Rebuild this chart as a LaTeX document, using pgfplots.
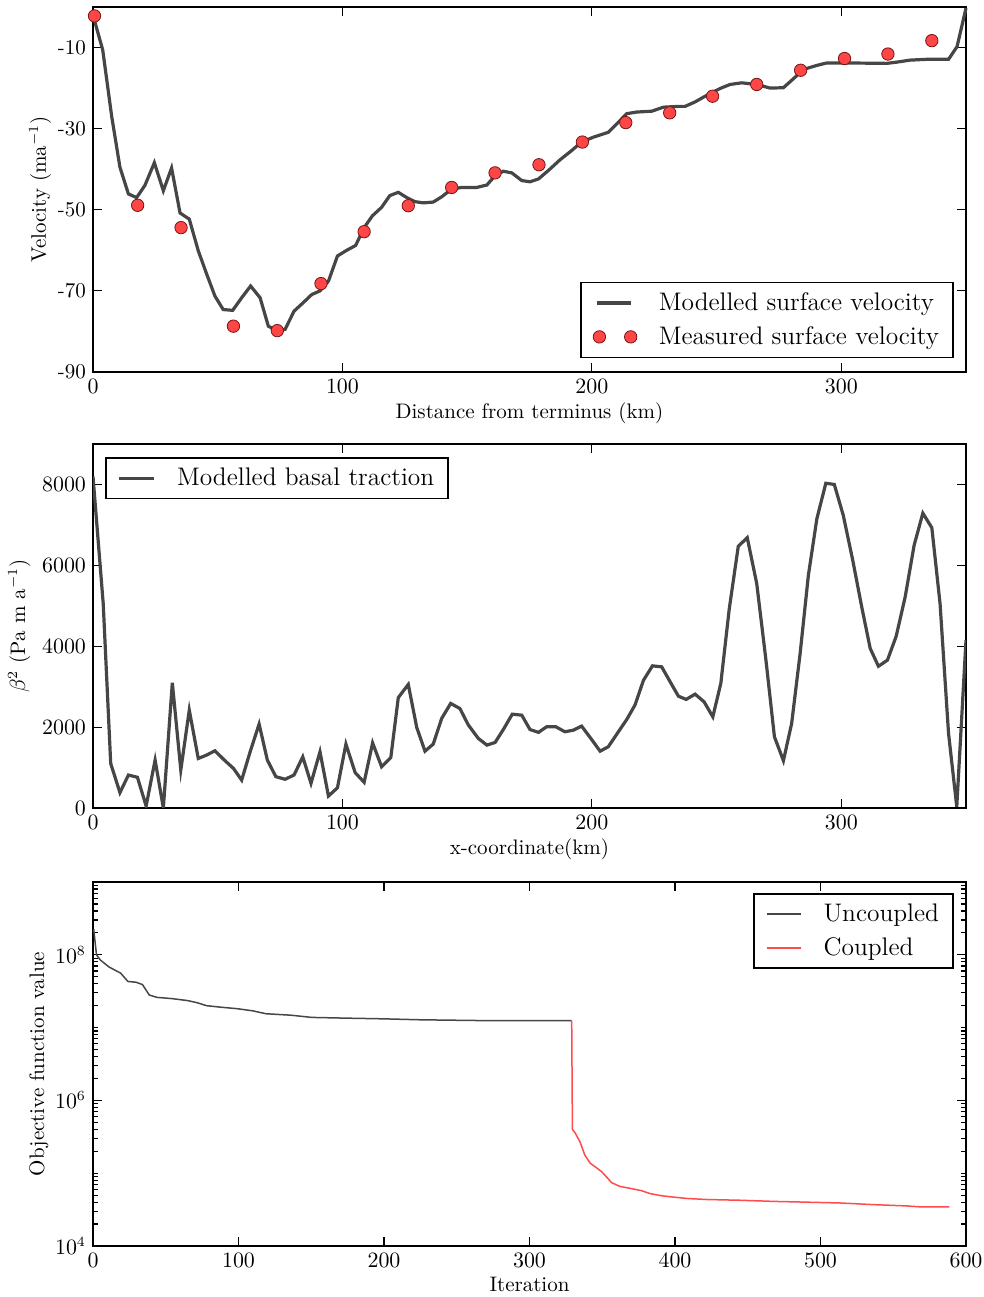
\documentclass[border=0pt]{standalone}
\usepackage{pgfplots}
\pgfplotsset{compat=1.18}
\definecolor{lgray}{RGB}{70,70,70}
\definecolor{mred}{RGB}{255,70,70}
\definecolor{mredd}{RGB}{120,20,20}
\definecolor{cred}{RGB}{255,75,75}
\pgfplotsset{
  every axis/.append style={
    scale only axis,
    width=436.5pt,
    axis line style={line width=0.9pt},
    tick align=inside,
    major tick length=4.5pt,
    minor tick length=2.5pt,
    every tick/.style={black, line width=0.6pt},
    tick label style={font=\fontsize{10.5}{12}\selectfont},
    label style={font=\fontsize{10.5}{12}\selectfont},
    xlabel shift=-2pt,
    legend style={font=\fontsize{12.7}{14}\selectfont, draw=black, line width=0.8pt,
      inner xsep=6pt, inner ysep=3pt, row sep=2.5pt, column sep=10pt,
      nodes={inner xsep=1pt}},
    legend cell align=left,
  },
}
\begin{document}
\begin{tikzpicture}
\path[use as bounding box] (0,0) rectangle (492pt,648.5pt);

% ---------------- Top panel ----------------
\begin{axis}[
  at={(46.5pt,462.5pt)}, anchor=south west,
  height=182.5pt,
  xmin=0, xmax=350, ymin=-90, ymax=0,
  xtick={0,100,200,300},
  ytick={-90,-70,-50,-30,-10},
  yticklabels={-90,-70,-50,-30,-10},
  xlabel={Distance from terminus (km)},
  ylabel={Velocity (ma$^{-1}$)},
  ylabel shift=-3.5pt,
  clip=false,
  legend style={at={(0.986,0.038)}, anchor=south east},
]
\addplot[lgray, line width=1.6pt] coordinates {
(0,-2) (3.9,-10.6) (7.5,-27) (10.8,-39.5) (14.2,-46.1) (17.5,-47) (20.8,-44)
(24.6,-38.4) (28.2,-45.3) (31.5,-39.7) (34.9,-50.8) (38.6,-52.3) (42.2,-60.1)
(45.6,-65.9) (48.9,-71.3) (52.2,-74.6) (56,-74.8) (59.6,-71.7) (63.2,-68.8)
(67,-71.7) (70.3,-78.7) (73.6,-79.8) (77,-79.5) (80.6,-75) (84.3,-72.9)
(87.7,-70.9) (91,-70) (94.4,-67.6) (98,-61.4) (101.7,-60) (105.3,-58.8)
(108.7,-54.4) (112,-51.5) (115.7,-49.4) (119,-46.5) (122.4,-45.7) (125.8,-47)
(129.1,-48) (132.4,-48.3) (136.4,-48.1) (139.8,-46.8) (143.8,-44.9) (147.8,-44.5)
(153.8,-44.5) (157.9,-43.9) (161.2,-41.6) (164.5,-40.5) (167.9,-40.9) (171.9,-42.8)
(175.2,-43.1) (178.6,-42.4) (182.6,-40.3) (187.2,-37.7) (191.9,-35.4) (195.9,-33.3)
(200.6,-32.1) (206.6,-30.9) (210,-28.8) (214,-26.3) (218,-25.9) (224,-25.7)
(228.7,-24.7) (235.4,-24.5) (237.4,-24.5) (241.4,-23.4) (246,-21.8) (251.4,-20.1)
(255.4,-19.1) (260.1,-18.7) (266.1,-19.1) (271.5,-20) (276.8,-19.9) (280.8,-17.7)
(284.8,-15.4) (290.2,-14.4) (294.2,-13.8) (302.2,-13.8) (318.2,-13.9) (322.2,-13.6)
(327.6,-13.1) (334.3,-12.9) (343,-12.9) (346.4,-9.8) (350,-0.3)
};
\addlegendentry{Modelled surface velocity}
\addplot[only marks, mark=*, mark size=3.1pt,
  mark options={fill=mred, draw=mredd, line width=0.4pt},
  legend image code/.code={\draw[mark=*, mark size=3.1pt, mark options={fill=mred, draw=mredd, line width=0.4pt}] plot coordinates {(0.05cm,0cm) (0.6cm,0cm)};}
] coordinates {
(0.6,-2.2) (17.9,-48.9) (35.3,-54.4) (56.3,-78.7) (73.9,-79.8) (91.4,-68.2)
(108.7,-55.4) (126.4,-49) (143.8,-44.5) (161.2,-40.9) (178.8,-38.9) (196.2,-33.3)
(213.6,-28.5) (231.2,-26.1) (248.4,-22) (266.1,-19.1) (283.7,-15.6) (301.3,-12.7)
(318.7,-11.6) (336.3,-8.3)
};
\addlegendentry{Measured surface velocity}
\end{axis}

% ---------------- Middle panel ----------------
\begin{axis}[
  at={(46.5pt,244.5pt)}, anchor=south west,
  height=182pt,
  xmin=0, xmax=350, ymin=0, ymax=9000,
  xtick={0,100,200,300},
  ytick={0,2000,4000,6000,8000},
  scaled y ticks=false,
  yticklabel style={/pgf/number format/set thousands separator={}},
  xlabel={x-coordinate(km)},
  ylabel={$\beta^2$ (Pa m a$^{-1}$)},
  ylabel shift=-1pt,
  legend style={at={(0.0137,0.964)}, anchor=north west},
]
\addplot[lgray, line width=1.6pt] coordinates {
(0,8200) (4.1,5050) (7.1,1100) (10.8,380) (14.2,815) (17.8,760) (21.3,50)
(24.9,1185) (28.2,0) (31.8,3095) (35.2,940) (38.6,2420) (42.2,1225) (45.6,1310)
(48.9,1415) (52.9,1170) (56.3,980) (59.6,690) (63,1390) (66.6,2075) (69.9,1185)
(73.3,775) (77,710) (80.6,815) (84.1,1265) (87.4,610) (91,1390) (94.4,295)
(98,500) (101.4,1580) (105.1,875) (108.7,635) (112.1,1610) (115.7,1020)
(119.4,1250) (122.4,2730) (126.4,3055) (129.8,1990) (133.1,1405) (136.4,1580)
(139.8,2215) (143.4,2585) (147.1,2460) (150.5,2050) (154.5,1720) (157.9,1555)
(161.2,1620) (164.5,1940) (168.1,2320) (171.9,2295) (175.2,1940) (178.6,1870)
(181.9,2010) (185.5,2010) (189.2,1885) (192.6,1925) (195.9,2025) (199.6,1720)
(203.3,1405) (206.6,1515) (210.2,1845) (214,2190) (217.3,2545) (220.7,3160)
(224.3,3515) (228,3490) (231.4,3120) (234.7,2765) (237.8,2685) (241.4,2815)
(245,2625) (248.5,2255) (251.7,3080) (255.1,4930) (258.7,6470) (262.3,6685)
(266.1,5550) (269.8,3655) (273.2,1760) (276.8,1170) (280.1,2090) (283.5,3820)
(286.8,5750) (290.2,7150) (293.8,8030) (297.2,8000) (300.8,7235) (304.6,6125)
(308.2,4970) (311.6,3945) (314.9,3505) (318.5,3655) (322,4245) (325.6,5215)
(329.2,6495) (332.7,7290) (336.3,6930) (339.6,5055) (343,1845) (346.3,30)
(350,4150)
};
\addlegendentry{Modelled basal traction}
\end{axis}

% ---------------- Bottom panel ----------------
\begin{axis}[
  at={(46.5pt,25.5pt)}, anchor=south west,
  height=182pt,
  ymode=log,
  xmin=0, xmax=600, ymin=1e4, ymax=1e9,
  xtick={0,100,200,300,400,500,600},
  ytick={1e4,1e6,1e8},
  yticklabels={$10^{4}$,$10^{6}$,$10^{8}$},
  minor ytick={2e4,3e4,4e4,5e4,6e4,7e4,8e4,9e4,1e5,2e5,3e5,4e5,5e5,6e5,7e5,8e5,9e5,
    2e6,3e6,4e6,5e6,6e6,7e6,8e6,9e6,1e7,2e7,3e7,4e7,5e7,6e7,7e7,8e7,9e7,
    2e8,3e8,4e8,5e8,6e8,7e8,8e8,9e8},
  xlabel={Iteration},
  ylabel={Objective function value},
  ylabel shift=-3.5pt,
  legend style={at={(0.986,0.97)}, anchor=north east},
]
\addplot[lgray, line width=0.75pt] coordinates {
(0.5,2.24e8) (2.4,1.0e8) (5,8.5e7) (11,6.8e7) (19,5.6e7) (24,4.3e7) (29.5,4.2e7)
(34,3.9e7) (38.7,2.8e7) (44,2.6e7) (54.4,2.5e7) (65,2.35e7) (71.5,2.2e7)
(78,2.0e7) (88.6,1.9e7) (99,1.82e7) (109.7,1.7e7) (118.9,1.55e7) (136,1.48e7)
(150.4,1.38e7) (172.8,1.35e7) (199,1.32e7) (225,1.28e7) (265,1.25e7) (329,1.25e7)
};
\addlegendentry{Uncoupled}
\addplot[cred, line width=0.75pt] coordinates {
(329,1.25e7) (329.5,4.0e5) (331.3,3.6e5) (334.7,2.7e5) (338,1.78e5) (341.6,1.38e5)
(345,1.23e5) (349.6,1.05e5) (356.5,7.4e4) (362,6.6e4) (369,6.2e4) (377,5.75e4)
(382.8,5.25e4) (390.8,4.9e4) (398.8,4.7e4) (408,4.5e4) (421.8,4.35e4)
(444.7,4.25e4) (467.6,4.1e4) (490.5,4.0e4) (513.4,3.9e4) (536.3,3.7e4)
(559.2,3.55e4) (568.4,3.45e4) (588.5,3.45e4)
};
\addlegendentry{Coupled}
\end{axis}
\end{tikzpicture}
\end{document}
